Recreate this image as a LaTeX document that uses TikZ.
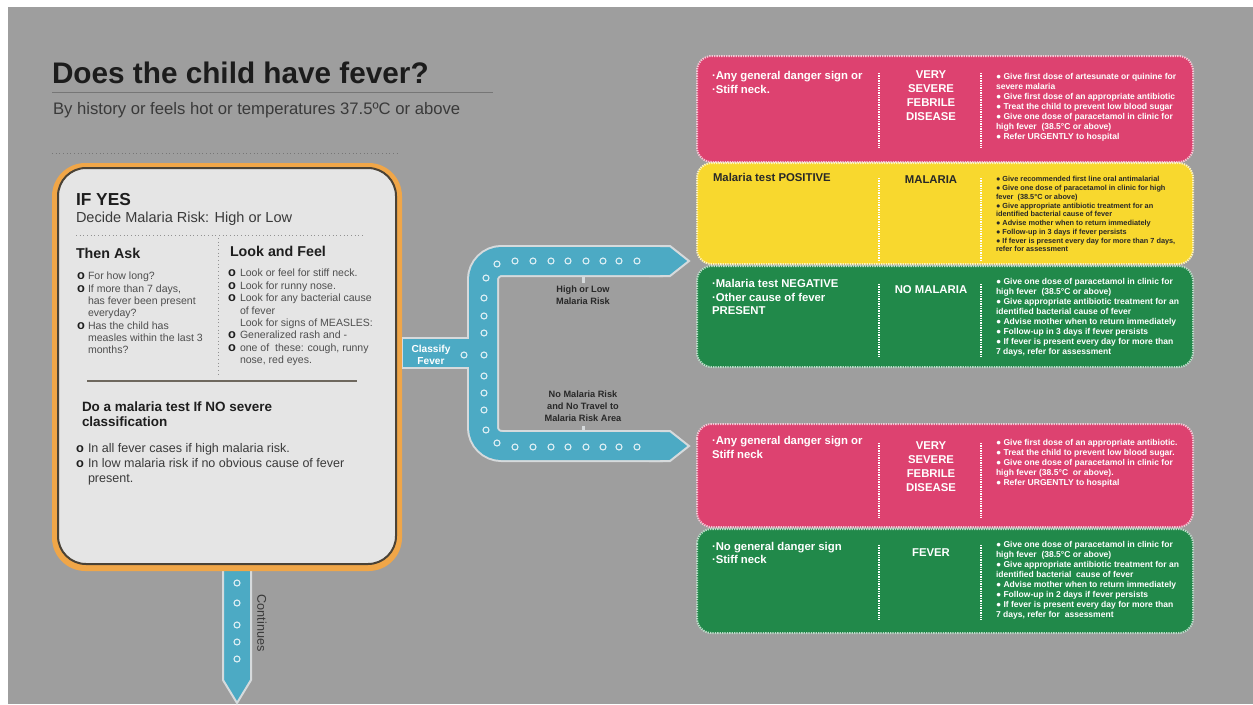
\documentclass[tikz,border=0pt]{standalone}
\usepackage{fontspec}
\setmainfont{Liberation Sans}
\definecolor{bggray}{RGB}{158,158,158}
\definecolor{titlecol}{RGB}{28,28,28}
\definecolor{subcol}{RGB}{58,58,58}
\definecolor{rulegray}{RGB}{118,118,118}
\definecolor{boxorange}{RGB}{240,166,72}
\definecolor{boxfill}{RGB}{229,229,229}
\definecolor{boxedge}{RGB}{74,66,54}
\definecolor{headcol}{RGB}{30,30,30}
\definecolor{bodycol}{RGB}{78,78,78}
\definecolor{bandblue}{RGB}{76,170,196}
\definecolor{bandedge}{RGB}{214,218,220}
\definecolor{ringcol}{RGB}{225,240,245}
\definecolor{pinkbox}{RGB}{221,66,112}
\definecolor{yellowbox}{RGB}{248,216,46}
\definecolor{greenbox}{RGB}{33,137,74}
\definecolor{darktxt}{RGB}{40,40,40}
\newcommand\fs[2]{\fontsize{#1pt}{#2pt}\selectfont}
\newcommand\ring{{\fontsize{9.6pt}{9.6pt}\selectfont\bfseries\color{headcol}o}}
\newcommand\bl{\makebox[8.25pt][l]{\ring}}
\newcommand\il{\hspace*{8.25pt}}
\newcommand\bm{\makebox[9pt][l]{\ring}}
\newcommand\im{\hspace*{9pt}}
\newcommand\bu{●\ }
\tikzset{
  rbox/.style={rounded corners=11pt, line width=1.5pt, dash pattern=on 1pt off 0.8pt},
  divider/.style={draw=white, line width=1.5pt, dash pattern=on 1pt off 0.8pt},
  col1/.style={anchor=north west, align=left, font=\fs{8.5}{10.1}\bfseries},
  col2/.style={anchor=north, align=center, font=\fs{8.5}{10.5}\bfseries},
  col3/.style={anchor=north west, align=left, font=\fs{6.4}{7.5}\bfseries},
  dot/.style={draw=ringcol, line width=0.8pt},
  midlabel/.style={anchor=north, align=center, text=darktxt, font=\fs{6.9}{8.6}\bfseries},
}
\begin{document}
\begin{tikzpicture}[x=0.75pt,y=-0.75pt, every node/.style={inner sep=0pt, outer sep=0pt}]
\useasboundingbox (0,0) rectangle (1253,704);
\fill[white] (0,0) rectangle (1253,704);
\fill[bggray] (8,7) rectangle (1253,704);

% title
\node[anchor=base west, font=\fs{22.3}{26}\bfseries, text=titlecol] (title) at (52,83) {Does the child have fever?};
\draw[rulegray, line width=0.75pt] (52,92) -- (493,92);
\node[anchor=base west, font=\fs{12.5}{15}, text=subcol] (subtitle) at (53,114) {By history or feels hot or temperatures 37.5ºC or above};
\draw[rulegray, dotted, line width=0.75pt] (52,153) -- (400,153);

% continues arrow
\filldraw[fill=bandblue, draw=bandedge, line width=1.5pt] (223,560) -- (251,560) -- (251,680) -- (237,703) -- (223,680) -- cycle;
\foreach \yy in {583,603,625,642,659} \draw[dot] (237,\yy) circle[radius=3];
\node[rotate=-90, font=\fs{9.5}{11}, text=subcol] (cont) at (262,623) {Continues};

% left box
\fill[boxorange, rounded corners=25pt] (52,163) rectangle (402,571);
\draw[fill=boxfill, draw=boxedge, line width=1.5pt, rounded corners=21pt] (58,168) rectangle (396,564);
\node[anchor=base west, font=\fs{13}{15}\bfseries, text=headcol] (ifyes) at (76,205) {IF YES};
\node[anchor=base west, font=\fs{10.9}{13}, text=subcol] (decide) at (76,222) {Decide Malaria Risk: High or Low};
\draw[rulegray!80, dotted, line width=0.75pt] (76,235) -- (363,235);
\draw[rulegray!80, dotted, line width=0.75pt] (218,238) -- (218,376);
\node[anchor=base west, font=\fs{10.7}{13}\bfseries, text=headcol] (thenask) at (76,258) {Then Ask};
\node[anchor=base west, font=\fs{10.7}{13}\bfseries, text=headcol] (lookfeel) at (230,256) {Look and Feel};
\node[anchor=north west, align=left, font=\fs{7.9}{9.25}, text=bodycol] (asklist) at (77,272.3)
  {\bl For how long?\\\bl If more than 7 days,\\\il has fever been present\\\il everyday?\\\bl Has the child has\\\il measles within the last 3\\\il months?};
\node[anchor=north west, align=left, font=\fs{7.9}{9.3}, text=bodycol] (looklist) at (228,269.3)
  {\bm Look or feel for stiff neck.\\\bm Look for runny nose.\\\bm Look for any bacterial cause\\\im of fever\\\im Look for signs of MEASLES:\\\bm Generalized rash and -\\\bm one of\ \ these: cough, runny\\\im nose, red eyes.};
\draw[boxedge!80, line width=1.5pt] (87,381) -- (357,381);
\node[anchor=north west, align=left, font=\fs{10.1}{11.25}\bfseries, text=headcol] (domal) at (82,402)
  {Do a malaria test If NO severe\\classification};
\node[anchor=north west, align=left, font=\fs{9.4}{11.25}, text=subcol] (tests) at (76,443)
  {\bm In all fever cases if high malaria risk.\\\bm In low malaria risk if no obvious cause of fever\\\im present.};

% middle band
\coordinate (stubL) at (402,353);
\coordinate (junc) at (483,353);
\coordinate (topR) at (663,261);
\coordinate (botR) at (663,446);
\coordinate (tipTop) at (689,261);
\coordinate (tipBot) at (689,446);
\draw[bandedge, line width=24pt, rounded corners=14pt] (topR) -- (483,261) -- (483,446) -- (botR);
\draw[bandedge, line width=24pt] (stubL) -- (junc);
\filldraw[fill=bandblue, draw=bandedge, line width=1.5pt] (650,246) -- (670,246) -- (tipTop) -- (670,276) -- (650,276) -- cycle;
\filldraw[fill=bandblue, draw=bandedge, line width=1.5pt] (650,431) -- (670,431) -- (tipBot) -- (670,461) -- (650,461) -- cycle;
\draw[bandblue, line width=21pt, rounded corners=14pt] (660,261) -- (483,261) -- (483,446) -- (660,446);
\draw[bandblue, line width=21pt] (403,353) -- (junc);
\foreach \xx in {515,533,551,568,586,603,619,637} {
  \draw[dot] (\xx,261) circle[radius=3];
  \draw[dot] (\xx,447) circle[radius=3];
}
\foreach \yy in {298,316,333,355,376,393,410} \draw[dot] (484,\yy) circle[radius=3];
\draw[dot] (497,264) circle[radius=3];
\draw[dot] (486,278) circle[radius=3];
\draw[dot] (486,430) circle[radius=3];
\draw[dot] (497,443) circle[radius=3];
\draw[dot] (464,355) circle[radius=3];
\node[anchor=north, align=center, text=white, font=\fs{7.6}{9.4}\bfseries] (classify) at (431,345) {Classify\\Fever};
\draw[bandedge, line width=2.25pt] (583,277) -- (583,283);
\draw[bandedge, line width=2.25pt] (583,426) -- (583,432);
\node[midlabel] (hilo) at (583,286.3) {High or Low\\Malaria Risk};
\node[midlabel, font=\fs{6.9}{9}\bfseries] (nomal) at (583,391.3) {No Malaria Risk\\and No Travel to\\Malaria Risk Area};

% right boxes
\draw[rbox, fill=pinkbox, draw=white!70!pinkbox] (697,56) rectangle (1193,162);
\draw[rbox, fill=yellowbox, draw=white!70!yellowbox] (697,163) rectangle (1193,264);
\draw[rbox, fill=greenbox, draw=white!70!greenbox] (697,266) rectangle (1193,367);
\draw[rbox, fill=pinkbox, draw=white!70!pinkbox] (697,424) rectangle (1193,527);
\draw[rbox, fill=greenbox, draw=white!70!greenbox] (697,529) rectangle (1193,633);

% box 1
\node[col1, text=white] (b1a) at (712,71.7) {·Any general danger sign or\\·Stiff neck.};
\node[col2, text=white] (b1b) at (931,70.7) {VERY\\SEVERE\\FEBRILE\\DISEASE};
\node[col3, text=white] (b1c) at (996,73.8) {\bu Give first dose of artesunate or quinine for\\severe malaria\\\bu Give first dose of an appropriate antibiotic\\\bu Treat the child to prevent low blood sugar\\\bu Give one dose of paracetamol in clinic for\\high fever\ \ (38.5°C or above)\\\bu Refer URGENTLY to hospital};
\draw[divider] (879,73) -- (879,148);
\draw[divider] (981,73) -- (981,148);

% box 2
\node[col1, text=darktxt] (b2a) at (713,173.7) {Malaria test POSITIVE};
\node[col2, text=darktxt] (b2b) at (931,175.7) {MALARIA};
\node[col3, text=darktxt, font=\fs{5.5}{6.56}\bfseries] (b2c) at (996,176.6) {\bu Give recommended first line oral antimalarial\\\bu Give one dose of paracetamol in clinic for high\\fever\ \ (38.5°C or above)\\\bu Give appropriate antibiotic treatment for an\\identified bacterial cause of fever\\\bu Advise mother when to return immediately\\\bu Follow-up in 3 days if fever persists\\\bu If fever is present every day for more than 7 days,\\refer for assessment};
\draw[divider] (879,178) -- (879,260);
\draw[divider] (981,178) -- (981,260);

% box 3
\node[col1, text=white] (b3a) at (712,279.7) {·Malaria test NEGATIVE\\·Other cause of fever\\PRESENT};
\node[col2, text=white] (b3b) at (931,285.7) {NO MALARIA};
\node[col3, text=white] (b3c) at (996,278.8) {\bu Give one dose of paracetamol in clinic for\\high fever\ \ (38.5°C or above)\\\bu Give appropriate antibiotic treatment for an\\identified bacterial cause of fever\\\bu Advise mother when to return immediately\\\bu Follow-up in 3 days if fever persists\\\bu If fever is present every day for more than\\7 days, refer for assessment};
\draw[divider] (879,284) -- (879,357);
\draw[divider] (981,284) -- (981,357);

% box 4
\node[col1, text=white] (b4a) at (712,436.7) {·Any general danger sign or\\Stiff neck};
\node[col2, text=white] (b4b) at (931,441.7) {VERY\\SEVERE\\FEBRILE\\DISEASE};
\node[col3, text=white, font=\fs{6.4}{7.35}\bfseries] (b4c) at (996,439.8) {\bu Give first dose of an appropriate antibiotic.\\\bu Treat the child to prevent low blood sugar.\\\bu Give one dose of paracetamol in clinic for\\high fever (38.5°C\ \ or above).\\\bu Refer URGENTLY to hospital};
\draw[divider] (879,443) -- (879,518);
\draw[divider] (981,443) -- (981,518);

% box 5
\node[col1, text=white, font=\fs{8.5}{9.4}\bfseries] (b5a) at (712,542.7) {·No general danger sign\\·Stiff neck};
\node[col2, text=white] (b5b) at (931,548.7) {FEVER};
\node[col3, text=white] (b5c) at (996,541.8) {\bu Give one dose of paracetamol in clinic for\\high fever\ \ (38.5°C or above)\\\bu Give appropriate antibiotic treatment for an\\identified bacterial\ \ cause of fever\\\bu Advise mother when to return immediately\\\bu Follow-up in 2 days if fever persists\\\bu If fever is present every day for more than\\7 days, refer for\ \ assessment};
\draw[divider] (879,545) -- (879,620);
\draw[divider] (981,545) -- (981,620);
\end{tikzpicture}
\end{document}
